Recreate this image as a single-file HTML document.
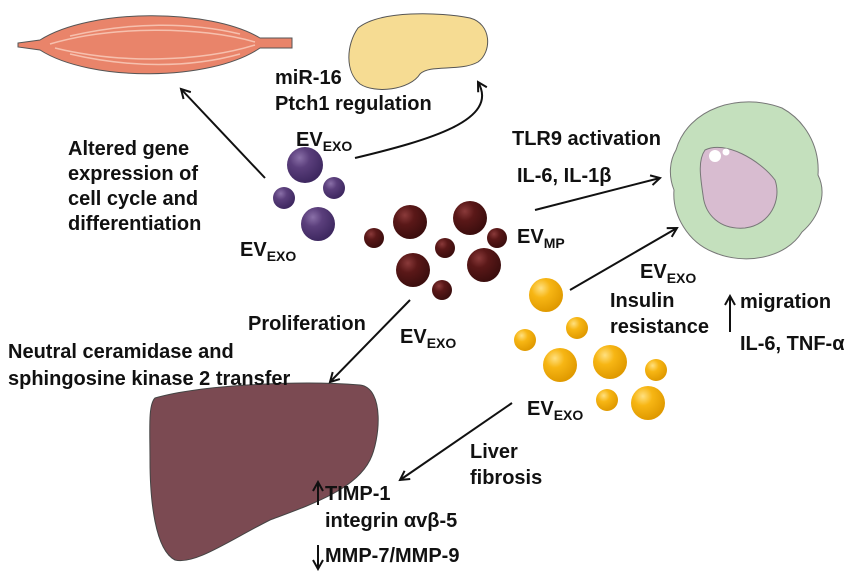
<!DOCTYPE html>
<html><head><meta charset="utf-8"><style>
html,body{margin:0;padding:0;background:#fff}
svg{display:block}
text{font-family:"Liberation Sans",sans-serif;font-weight:bold;font-size:20px;fill:#111}
.s{font-size:14px}
</style></head><body>
<svg width="866" height="579" viewBox="0 0 866 579" xmlns="http://www.w3.org/2000/svg">
<defs>
<radialGradient id="gp" cx="0.35" cy="0.3" r="0.7"><stop offset="0" stop-color="#8a70a8"/><stop offset="0.4" stop-color="#5b3f7c"/><stop offset="1" stop-color="#3e2860"/></radialGradient>
<radialGradient id="gm" cx="0.35" cy="0.3" r="0.7"><stop offset="0" stop-color="#8a3a3a"/><stop offset="0.4" stop-color="#5a1818"/><stop offset="1" stop-color="#3c0e0e"/></radialGradient>
<radialGradient id="gy" cx="0.35" cy="0.3" r="0.7"><stop offset="0" stop-color="#ffe080"/><stop offset="0.4" stop-color="#f7b614"/><stop offset="1" stop-color="#e09a00"/></radialGradient>
<marker id="ah" markerWidth="12" markerHeight="12" refX="10" refY="6" orient="auto" markerUnits="userSpaceOnUse"><path d="M1,1 L10,6 L1,11" fill="none" stroke="#111" stroke-width="2"/></marker>
</defs>
<!-- muscle -->
<path d="M18,43 L40,40 C90,8 210,8 260,38 L292,38 L292,48 L260,48 C210,82 90,82 40,50 L18,47 Z" fill="#e9846a" stroke="#555" stroke-width="1"/>
<path d="M50,44 C110,26 200,26 255,42 M55,48 C120,64 200,62 255,45 M70,36 C130,22 190,22 240,34 M70,54 C130,68 190,68 240,54" stroke="#f6c0ae" stroke-width="1.5" fill="none"/>
<!-- pancreas -->
<path d="M358,28 C380,10 440,12 470,18 C492,24 492,52 478,62 C460,72 430,64 420,74 C410,90 375,94 360,84 C345,72 346,45 358,28 Z" fill="#f6dc93" stroke="#555" stroke-width="1"/>
<!-- cell -->
<path d="M676,150 C688,108 740,92 782,108 C804,120 820,145 818,175 C828,195 818,218 802,232 C786,258 745,266 713,252 C688,242 672,215 674,190 C668,175 670,160 676,150 Z" fill="#c4e0bd" stroke="#777" stroke-width="1"/>
<path d="M705,150 C725,140 760,160 775,180 C782,200 770,225 745,228 C720,230 705,215 703,195 C700,175 698,160 705,150 Z" fill="#d8bcd0" stroke="#777" stroke-width="1"/>
<circle cx="715" cy="156" r="6" fill="#fff"/><circle cx="726" cy="152" r="3.5" fill="#fff"/>
<!-- liver -->
<path d="M155,398 C200,385 300,380 360,385 C385,388 380,440 370,460 C355,490 310,505 270,520 C230,540 195,565 175,560 C155,550 150,500 150,460 C150,430 148,405 155,398 Z" fill="#7b4a52" stroke="#444" stroke-width="1"/>
<!-- spheres -->
<g fill="url(#gp)"><circle cx="305" cy="165" r="18"/><circle cx="334" cy="188" r="11"/><circle cx="284" cy="198" r="11"/><circle cx="318" cy="224" r="17"/></g>
<g fill="url(#gm)"><circle cx="374" cy="238" r="10"/><circle cx="410" cy="222" r="17"/><circle cx="445" cy="248" r="10"/><circle cx="470" cy="218" r="17"/><circle cx="497" cy="238" r="10"/><circle cx="413" cy="270" r="17"/><circle cx="484" cy="265" r="17"/><circle cx="442" cy="290" r="10"/></g>
<g fill="url(#gy)"><circle cx="546" cy="295" r="17"/><circle cx="577" cy="328" r="11"/><circle cx="525" cy="340" r="11"/><circle cx="560" cy="365" r="17"/><circle cx="610" cy="362" r="17"/><circle cx="656" cy="370" r="11"/><circle cx="607" cy="400" r="11"/><circle cx="648" cy="403" r="17"/></g>
<!-- arrows -->
<g stroke="#111" stroke-width="2" fill="none" marker-end="url(#ah)">
<line x1="265" y1="178" x2="181" y2="89"/>
<path d="M355,158 C430,140 500,120 478,82"/>
<line x1="535" y1="210" x2="660" y2="178"/>
<line x1="570" y1="290" x2="677" y2="228"/>
<line x1="410" y1="300" x2="330" y2="382"/>
<line x1="512" y1="403" x2="400" y2="480"/>
<line x1="730" y1="332" x2="730" y2="296"/>
<line x1="318" y1="505" x2="318" y2="482"/>
<line x1="318" y1="545" x2="318" y2="569"/>
</g>
<!-- text -->
<text x="275" y="84">miR-16</text><text x="275" y="110">Ptch1 regulation</text>
<text x="296" y="146">EV<tspan class="s" dy="5">EXO</tspan></text>
<text x="68" y="155">Altered gene</text><text x="68" y="180">expression of</text><text x="68" y="205">cell cycle and</text><text x="68" y="230">differentiation</text>
<text x="240" y="256">EV<tspan class="s" dy="5">EXO</tspan></text>
<text x="512" y="145">TLR9 activation</text><text x="517" y="182">IL-6, IL-1β</text>
<text x="517" y="243">EV<tspan class="s" dy="5">MP</tspan></text>
<text x="640" y="278">EV<tspan class="s" dy="5">EXO</tspan></text>
<text x="610" y="307">Insulin</text><text x="610" y="333">resistance</text>
<text x="740" y="308">migration</text><text x="740" y="350">IL-6, TNF-α</text>
<text x="248" y="330">Proliferation</text>
<text x="400" y="343">EV<tspan class="s" dy="5">EXO</tspan></text>
<text x="8" y="358">Neutral ceramidase and</text><text x="8" y="385">sphingosine kinase 2 transfer</text>
<text x="527" y="415">EV<tspan class="s" dy="5">EXO</tspan></text>
<text x="470" y="458">Liver</text><text x="470" y="484">fibrosis</text>
<text x="325" y="500">TIMP-1</text><text x="325" y="527">integrin αvβ-5</text><text x="325" y="562">MMP-7/MMP-9</text>
</svg>
</body></html>
